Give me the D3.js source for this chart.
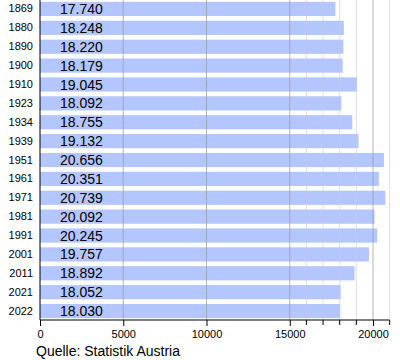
<!DOCTYPE html>
<html><head><meta charset="utf-8">
<script src="https://cdn.jsdelivr.net/npm/d3@7"></script>
<style>body{margin:0;background:#fff}svg{display:block}text{font-family:"Liberation Sans",Arial,sans-serif}</style>
</head><body>
<script>
const years = ["1869","1880","1890","1900","1910","1923","1934","1939","1951","1961","1971","1981","1991","2001","2011","2021","2022"];
const population = [17740,18248,18220,18179,19045,18092,18755,19132,20656,20351,20739,20092,20245,19757,18892,18052,18030];
const majorTicks = [0,5000,10000,15000,20000];
const minorTicks = [16000,17000,18000,19000,21000];
const sourceText = "Quelle: Statistik Austria";

const W=400,H=360;
const svg=d3.select("body").append("svg").attr("width",W).attr("height",H);
const x=d3.scaleLinear().domain([0,21000]).range([40,389.65]);
const y=d3.scaleBand().domain(years).range([0,320]).paddingInner(0.25).paddingOuter(0.1);
const fmt=v=>d3.format(",")(v).replace(/,/g,".");

svg.append("g").selectAll("rect").data(years).join("rect")
  .attr("x",x(0)).attr("y",d=>y(d)).attr("width",(d,i)=>x(population[i])-x(0)).attr("height",y.bandwidth())
  .attr("fill","#b3c6ff");

svg.append("g").selectAll("line").data(minorTicks).join("line")
  .attr("x1",d=>x(d)).attr("x2",d=>x(d)).attr("y1",0).attr("y2",320)
  .attr("stroke","#cccccc").attr("stroke-opacity",0.6).attr("stroke-width",1);
svg.append("g").selectAll("line").data(majorTicks.filter(d=>d>0)).join("line")
  .attr("x1",d=>x(d)).attr("x2",d=>x(d)).attr("y1",0).attr("y2",320)
  .attr("stroke","#999999").attr("stroke-opacity",0.7).attr("stroke-width",1);

svg.append("g").selectAll("text").data(years).join("text")
  .attr("x",60).attr("y",d=>y(d)+y.bandwidth()/2).attr("dy","0.36em")
  .attr("font-size",14).attr("fill","#000").text((d,i)=>fmt(population[i]));

const xa=svg.append("g").attr("transform","translate(0,320)")
  .call(d3.axisBottom(x).tickValues(majorTicks).tickSize(6).tickPadding(4).tickFormat(d3.format("d")));
xa.select(".domain").attr("d",`M${x(0)},0H${x(21000)}`).attr("stroke","#000");
xa.selectAll("text").attr("font-size",11).attr("font-family","Liberation Sans, Arial, sans-serif");
svg.append("g").attr("transform","translate(0,320)").selectAll("line").data(minorTicks).join("line")
  .attr("x1",d=>x(d)).attr("x2",d=>x(d)).attr("y1",0).attr("y2",5).attr("stroke","#000");

const ya=svg.append("g").attr("transform","translate(40,0)")
  .call(d3.axisLeft(y).tickSize(0).tickPadding(7));
ya.select(".domain").attr("d","M0,0V320").attr("stroke","#000");
ya.selectAll("text").attr("font-size",11).attr("font-family","Liberation Sans, Arial, sans-serif");

svg.append("text").attr("x",36).attr("y",356).attr("font-size",14).text(sourceText);
</script>
</body></html>
